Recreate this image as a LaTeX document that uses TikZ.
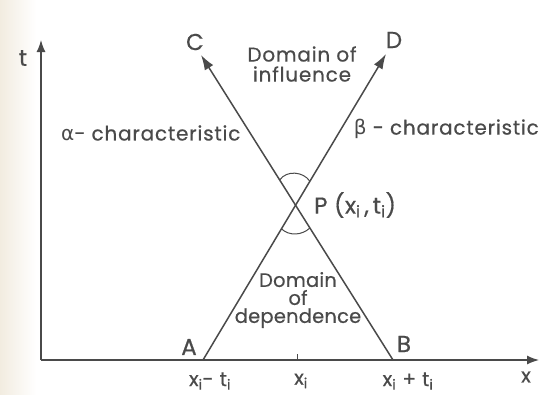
\documentclass[tikz,border=0pt]{standalone}
\usepackage{fontspec}
\setmainfont{Poppins}
\newfontfamily\lblfont{Poppins}[FakeBold=0.5, LetterSpace=4]
\newfontfamily\tightfont{Poppins}[FakeBold=0.5, LetterSpace=1]
\newfontfamily\capfont{Poppins}[FakeBold=0.5, LetterSpace=2]
\newfontfamily\gkfont{DejaVu Sans}
\usetikzlibrary{arrows.meta,calc}
\definecolor{ink}{HTML}{4A4A4A}
\definecolor{paper}{HTML}{F2ECE0}
\tikzset{
  axis/.style={draw=ink, line width=1.3pt, -{Latex[length=12pt,width=9pt]}},
  charline/.style={draw=ink, line width=1.5pt, -{Latex[length=15pt,width=10pt]}},
  anglemark/.style={draw=ink, line width=1pt},
  lbl/.style={text=ink, font=\lblfont\fontsize{20}{23}\selectfont, inner sep=0pt},
  deplbl/.style={text=ink, font=\tightfont\fontsize{19.5}{22}\selectfont, inner sep=0pt},
  ptlbl/.style={text=ink, font=\capfont\fontsize{23}{26}\selectfont, inner sep=0pt}
}
\begin{document}
\begin{tikzpicture}[x=1pt,y=-1pt]
\useasboundingbox (0,0) rectangle (540,394);
\fill[left color=paper, right color=white] (0,0) rectangle (36,394);
% axes
\coordinate (O) at (41,360);
\coordinate (Ttop) at (41,40);
\coordinate (Xend) at (539,360);
\draw[axis] (O) -- (Ttop);
\draw[axis] (O) -- (Xend);
% characteristic lines
\coordinate (A) at (203,360);
\coordinate (B) at (393,360);
\coordinate (C) at (201,55);
\coordinate (D) at (386,54);
\draw[charline] (A) -- (D);
\draw[charline] (B) -- (C);
% angle marks at P
\coordinate (UL) at ($(B)!0.590!(C)$);
\coordinate (UR) at ($(A)!0.584!(D)$);
\coordinate (LL) at ($(A)!0.4286!(D)$);
\coordinate (LR) at ($(B)!0.4328!(C)$);
\draw[anglemark] (UL) .. controls +(6.5,-10) and +(-6.5,-10) .. (UR);
\draw[anglemark] (LL) .. controls +(8,7.4) and +(-8,7.4) .. (LR);
% tick at x_i
\coordinate (Xi) at (297,360);
\coordinate (Xitop) at (297,354);
\draw[ink, line width=1pt] (Xi) -- (Xitop);
% labels
\node[ptlbl] (lt) at (23,58) {t};
\node[ptlbl] (lC) at (195,42) {C};
\node[ptlbl] (lD) at (394,40) {D};
\node[ptlbl] (lA) at (189,347) {A};
\node[ptlbl] (lB) at (404,344) {B};
\node[lbl, align=center] (infl) at (302,64) {Domain of\\[-3pt]influence};
\node[lbl, anchor=west] (alpha) at (61,133) {{\gkfont α}- characteristic};
\node[lbl, anchor=east] (beta) at (539,129) {{\gkfont β} - characteristic};
\node[ptlbl, anchor=west] (lP) at (314,205) {P (x\textsubscript{i}\,,\,t\textsubscript{i})};
\node[deplbl, align=center] (dep) at (298,300) {Domain\\[-4pt]of\\[-4pt]dependence};
\node[lbl] (x1) at (210,381) {x\textsubscript{i}- t\textsubscript{i}};
\node[lbl] (x2) at (301,381) {x\textsubscript{i}};
\node[lbl] (x3) at (408,381) {x\textsubscript{i} + t\textsubscript{i}};
\node[lbl] (xl) at (526,377) {x};
\end{tikzpicture}
\end{document}
